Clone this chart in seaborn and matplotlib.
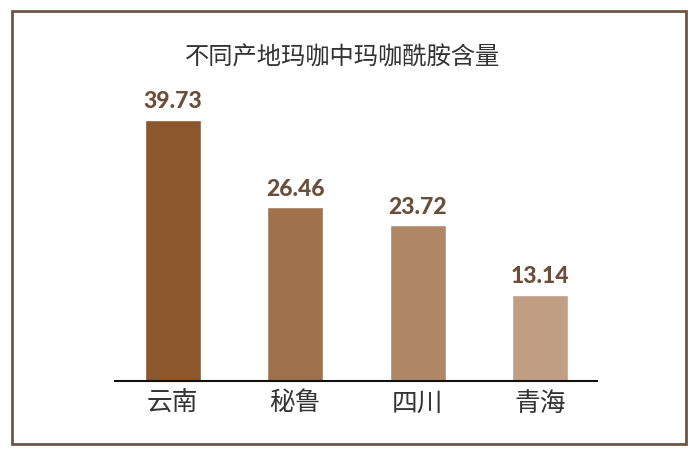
import matplotlib
matplotlib.use("Agg")
import matplotlib.pyplot as plt
import seaborn as sns
import pandas as pd
from matplotlib.patches import Rectangle

categories = ["云南", "秘鲁", "四川", "青海"]
values = [39.73, 26.46, 23.72, 13.14]
colors = ["#8C572D", "#A0714A", "#AF8767", "#C19F85"]
title = "不同产地玛咖中玛咖酰胺含量"

sns.set_theme(style="white")
plt.rcParams['font.family'] = ['Noto Sans CJK SC', 'DejaVu Sans']

df = pd.DataFrame({"cat": categories, "val": values})

fig = plt.figure(figsize=(7, 4.56), dpi=100)
ax = fig.add_axes([0.164, 0.162, 0.689, 0.649])
sns.barplot(data=df, x="cat", y="val", hue="cat", palette=colors, legend=False,
            width=0.458, ax=ax, saturation=1)
ax.set_ylim(0, 45)
ax.set_xlim(-0.474, 3.467)
for s in ["top", "right", "left"]:
    ax.spines[s].set_visible(False)
ax.spines["bottom"].set_color("#111111")
ax.spines["bottom"].set_linewidth(1.5)
ax.set_yticks([])
ax.set_xlabel("")
ax.set_ylabel("")
ax.tick_params(axis="x", length=0, pad=6, labelsize=18.5, labelcolor="#333333")

for i, v in enumerate(values):
    ax.text(i, v + 1.3, f"{v:.2f}", ha="center", va="bottom",
            fontsize=16.5, fontweight=900, color="#6B4E3A", family=["Lato", "DejaVu Sans"])

fig.text(0.49, 0.873, title, ha="center", va="center", fontsize=17.5, color="#333333")

fig.patches.append(Rectangle((12/700, 1-445/456), (686-12)/700, (445-12)/456,
                             transform=fig.transFigure, fill=False,
                             edgecolor="#6B5646", linewidth=2))

fig.savefig("out.png", dpi=100)
